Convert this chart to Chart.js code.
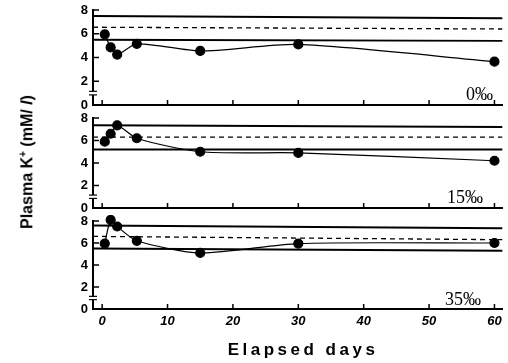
<!DOCTYPE html>
<html>
<head>
<meta charset="utf-8">
<script src="https://cdn.jsdelivr.net/npm/chart.js@4.4.1/dist/chart.umd.min.js"></script>
<style>
  body { margin: 0; background: #fff; }
  #wrap { position: relative; width: 508px; height: 363px; overflow: hidden; }
  .panel { position: absolute; left: 0; width: 508px; }
  .lab { position: absolute; font-family: "Liberation Serif", serif; font-size: 18px; color: #000; }
  #ytitle { position: absolute; left: 27px; top: 162px; transform: translate(-50%, -50%) rotate(-90deg);
    font-family: "Liberation Sans Narrow", "Liberation Sans", Arial, sans-serif; font-weight: bold; font-size: 16px; white-space: nowrap; }
  #xtitle { position: absolute; left: 303px; top: 350px; transform: translate(-50%, -50%);
    font-family: "Liberation Sans", Arial, sans-serif; font-weight: bold; font-size: 17px; letter-spacing: 3.5px; white-space: nowrap; }
</style>
</head>
<body>
<div id="wrap">
  <div class="panel" style="top:0;height:112px"><canvas id="c1"></canvas></div>
  <div class="panel" style="top:112px;height:103px"><canvas id="c2"></canvas></div>
  <div class="panel" style="top:215px;height:148px"><canvas id="c3"></canvas></div>
  <div class="lab" style="left:466px;top:84px">0‰</div>
  <div class="lab" style="left:447px;top:187px">15‰</div>
  <div class="lab" style="left:445px;top:289px">35‰</div>
  <div id="ytitle">Plasma K<sup style="font-size:10px">+</sup> (mM/ <i>l</i>)</div>
  <div id="xtitle">Elapsed days</div>
</div>
<script>
// dias de muestreo
const days = [0.4, 1.3, 2.3, 5.3, 15, 30, 60];
const xTicks = [0, 10, 20, 30, 40, 50, 60];
const yTicks = [0, 2, 4, 6, 8];

// K+ plasmatico por salinidad
const k0 = [5.95, 4.85, 4.25, 5.15, 4.55, 5.1, 3.65];
const k15 = [5.9, 6.6, 7.35, 6.2, 5.0, 4.9, 4.2];
const k35 = [5.95, 8.1, 7.5, 6.2, 5.1, 5.95, 6.0];

// rangos normales (inicio, fin)
const upper0 = [7.5, 7.3], mean0 = [6.55, 6.4], lower0 = [5.5, 5.4];
const upper15 = [7.35, 7.2], mean15 = [6.3, 6.3], lower15 = [5.2, 5.2];
const upper35 = [7.6, 7.35], mean35 = [6.6, 6.3], lower35 = [5.5, 5.3];

const xMin = -1.4, xMax = 61.2;

const ejes = {
  id: 'ejes',
  afterDraw(chart) {
    const ctx = chart.ctx, x = chart.scales.x, y = chart.scales.y;
    ctx.save();
    ctx.strokeStyle = '#000';
    ctx.lineWidth = 1.5;
    yTicks.forEach(v => {
      if (v === 0) return;
      const py = y.getPixelForValue(v);
      ctx.beginPath(); ctx.moveTo(x.left, py); ctx.lineTo(x.left + 6, py); ctx.stroke();
    });
    xTicks.forEach(v => {
      const px = x.getPixelForValue(v);
      ctx.beginPath(); ctx.moveTo(px, y.bottom); ctx.lineTo(px, y.bottom - 5); ctx.stroke();
    });
    // corte del eje
    const b1 = y.getPixelForValue(1.15), b2 = y.getPixelForValue(0.85);
    ctx.fillStyle = '#fff';
    ctx.fillRect(x.left - 2, b1, 4, b2 - b1);
    ctx.lineWidth = 1.2;
    [b1, b2].forEach(py => {
      ctx.beginPath(); ctx.moveTo(x.left - 4, py); ctx.lineTo(x.left + 4, py); ctx.stroke();
    });
    ctx.restore();
  }
};

function linea(vals, dash) {
  return {
    data: [{ x: xMin, y: vals[0] }, { x: xMax, y: vals[1] }],
    borderColor: '#000', borderWidth: dash ? 1.3 : 2, borderDash: dash ? [5, 4] : [],
    pointRadius: 0, tension: 0
  };
}

function panel(id, serie, up, mean, low, top, bottomH, showX) {
  new Chart(document.getElementById(id), {
    type: 'line',
    data: {
      datasets: [
        linea(up, false), linea(mean, true), linea(low, false),
        {
          data: days.map((d, i) => ({ x: d, y: serie[i] })),
          borderColor: '#000', backgroundColor: '#000', borderWidth: 1.2,
          pointRadius: 4.5, pointHoverRadius: 4.5, tension: 0.25
        }
      ]
    },
    options: {
      responsive: true, maintainAspectRatio: false, animation: false,
      clip: false,
      layout: { padding: { top: top, right: 3, left: 0, bottom: 0 } },
      plugins: { legend: { display: false }, tooltip: { enabled: false } },
      scales: {
        x: {
          type: 'linear', min: xMin, max: xMax,
          afterBuildTicks: s => { s.ticks = xTicks.map(v => ({ value: v })); },
          afterFit: s => { s.height = bottomH; s.paddingLeft = 0; s.paddingRight = 0; },
          grid: { display: false, drawTicks: false },
          border: { display: true, color: '#000', width: 2 },
          ticks: {
            display: showX, padding: 5, color: '#000',
            font: { family: 'Liberation Sans', size: 13, weight: 'bold', style: 'italic' }
          }
        },
        y: {
          min: 0, max: 8,
          afterBuildTicks: s => { s.ticks = yTicks.map(v => ({ value: v })); },
          afterFit: s => { s.width = 93; s.paddingTop = 0; s.paddingBottom = 0; },
          grid: { display: false, drawTicks: false },
          border: { display: true, color: '#000', width: 2 },
          ticks: {
            padding: 5, color: '#000',
            font: { family: 'Liberation Sans', size: 13, weight: 'bold' }
          }
        }
      }
    },
    plugins: [ejes]
  });
}

panel('c1', k0, upper0, mean0, lower0, 10, 7, false);
panel('c2', k15, upper15, mean15, lower15, 6, 7, false);
panel('c3', k35, upper35, mean35, lower35, 6, 54, true);
</script>
</body>
</html>
